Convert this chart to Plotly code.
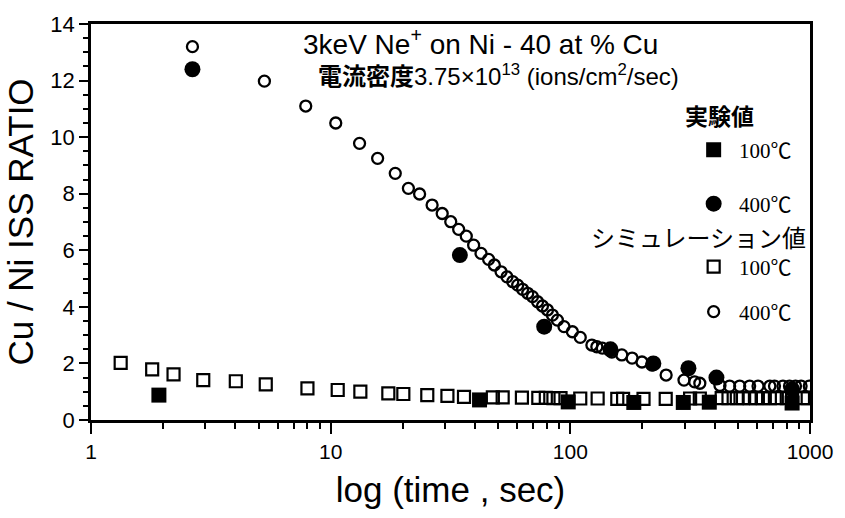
import plotly.graph_objects as go

# ---- data ----
sim400_t = [2.65, 5.29, 7.87, 10.5, 13.2, 15.7, 18.6, 21.1, 23.5, 26.5, 29.2, 31.7, 34.2, 36.8,
            39.5, 42.4, 45.6, 48.2, 51.4, 54.4, 57.5, 60.3, 63.2, 66.4, 69.5, 73.0, 76.5, 80.3,
            84.2, 88.3, 94.1, 102, 110, 123, 129, 136, 149, 164, 181, 199, 219, 251, 298, 330,
            347, 421, 462, 509, 560, 607, 680, 711, 771, 821, 870, 918, 993]
sim400_r = [13.2, 11.98, 11.1, 10.5, 9.78, 9.25, 8.72, 8.19, 7.99, 7.60, 7.30, 7.01, 6.74, 6.50,
            6.18, 5.89, 5.68, 5.48, 5.24, 5.06, 4.89, 4.77, 4.62, 4.48, 4.36, 4.18, 4.03, 3.89,
            3.71, 3.53, 3.30, 3.12, 2.92, 2.65, 2.59, 2.54, 2.40, 2.30, 2.19, 2.05, 1.94, 1.59, 1.41, 1.35,
            1.30, 1.22, 1.20, 1.20, 1.20, 1.20, 1.20, 1.20, 1.20, 1.20, 1.20, 1.20, 1.20]

sim100_t = [1.33, 1.80, 2.21, 2.94, 4.02, 5.36, 8.0, 10.7, 13.3, 17.4, 20.1, 25.3, 30.7, 36.0,
            47.5, 52.2, 62.8, 73.5, 79, 85, 91, 110, 130, 157, 166, 202, 250, 316, 347, 428,
            457, 495, 525, 560, 596, 636, 680, 727, 800, 842, 935, 978]
sim100_r = [2.02, 1.79, 1.61, 1.41, 1.37, 1.26, 1.12, 1.06, 1.00, 0.94, 0.92, 0.88, 0.85, 0.82,
            0.80, 0.80, 0.79, 0.78, 0.78, 0.77, 0.77, 0.76, 0.76, 0.75, 0.75, 0.75, 0.75, 0.76,
            0.76, 0.77, 0.77, 0.77, 0.77, 0.77, 0.77, 0.77, 0.77, 0.77, 0.77, 0.77, 0.77, 0.77]

exp100_t = [1.92, 41.8, 98, 184, 296, 380, 842]
exp100_r = [0.88, 0.71, 0.64, 0.62, 0.62, 0.63, 0.60]

exp400_t = [2.65, 34.6, 77.8, 147, 222, 311, 407, 842]
exp400_r = [12.4, 5.83, 3.30, 2.50, 2.00, 1.83, 1.50, 1.08]

x_ticks = [1, 10, 100, 1000]
x_minor = [m * 10 ** k for k in range(3) for m in range(2, 10)]
y_ticks = list(range(0, 15, 2))

fig = go.Figure()

serif = "Liberation Serif, Noto Sans CJK JP"
cjk = "Noto Sans CJK JP"
sans = "Liberation Sans, Arial"

fig.add_trace(go.Scatter(x=sim100_t, y=sim100_r, mode="markers", name=" 100℃",
                         legend="legend3",
                         marker=dict(symbol="square-open", size=12, color="black",
                                     line=dict(width=2.2, color="black"))))
fig.add_trace(go.Scatter(x=sim400_t, y=sim400_r, mode="markers", name=" 400℃",
                         legend="legend4",
                         marker=dict(symbol="circle-open", size=11, color="black",
                                     line=dict(width=2.3, color="black"))))
fig.add_trace(go.Scatter(x=exp100_t, y=exp100_r, mode="markers", name=" 100℃",
                         legend="legend",
                         marker=dict(symbol="square", size=15, color="black")))
fig.add_trace(go.Scatter(x=exp400_t, y=exp400_r, mode="markers", name=" 400℃",
                         legend="legend2",
                         marker=dict(symbol="circle", size=16, color="black")))

L, T, R, B = 91, 24, 845 - 814, 518 - 420
ph = 518 - T - B
pw = 845 - L - R


def py(p):
    return (518 - B - p) / ph


def px(p):
    return (p - L) / pw


leg_common = dict(x=px(697), xanchor="left", yanchor="middle",
                  bgcolor="rgba(0,0,0,0)", borderwidth=0,
                  font=dict(family=serif, size=21, color="black"))

fig.update_layout(
    width=845, height=518,
    margin=dict(l=L, r=R, t=T, b=B),
    plot_bgcolor="white", paper_bgcolor="white",
    showlegend=True,
    legend=dict(y=py(150), **leg_common),
    legend2=dict(y=py(204), **leg_common),
    legend3=dict(y=py(267), **leg_common),
    legend4=dict(y=py(312), **leg_common),
    xaxis=dict(type="log", range=[0, 3], tickvals=x_ticks, ticktext=[str(v) for v in x_ticks],
               ticks="outside", ticklen=11, tickwidth=2, tickcolor="black",
               minor=dict(tickvals=x_minor, ticks="outside", ticklen=6, tickwidth=1.5,
                          tickcolor="black", showgrid=False),
               showline=True, linewidth=2.5, linecolor="black", mirror=True,
               showgrid=False, zeroline=False,
               tickfont=dict(family=sans, size=21, color="black"),
               title=dict(text="log (time , sec)", font=dict(family=sans, size=35, color="black"),
                          standoff=16)),
    yaxis=dict(range=[0, 14], tickvals=y_ticks,
               ticks="outside", ticklen=9, tickwidth=2, tickcolor="black",
               minor=dict(dtick=0.5, ticks="outside", ticklen=5, tickwidth=1.5,
                          tickcolor="black", showgrid=False),
               showline=True, linewidth=2.5, linecolor="black", mirror=True,
               showgrid=False, zeroline=False,
               tickfont=dict(family=sans, size=22, color="black"),
               title=dict(text="Cu / Ni ISS RATIO", font=dict(family=sans, size=35, color="black"),
                          standoff=7)),
    annotations=[
        dict(text="3keV Ne<sup>+</sup> on Ni - 40 at % Cu", xref="paper", yref="paper",
             x=px(483), y=py(42), xanchor="center", yanchor="middle",
             showarrow=False, font=dict(family=sans, size=28, color="black")),
        dict(text="<b>電流密度</b>3.75×10<sup>13</sup> (ions/cm<sup>2</sup>/sec)",
             xref="paper", yref="paper",
             x=px(501), y=py(75), xanchor="center", yanchor="middle",
             showarrow=False, font=dict(family=sans + ", " + cjk, size=24, color="black")),
        dict(text="<b>実験値</b>", xref="paper", yref="paper",
             x=px(760), y=py(115), xanchor="right", yanchor="middle",
             showarrow=False, font=dict(family=cjk, size=23, color="black")),
        dict(text="シミュレーション値", xref="paper", yref="paper",
             x=px(812), y=py(236), xanchor="right", yanchor="middle",
             showarrow=False, font=dict(family=cjk, size=24, color="black")),
    ],
)

fig.write_html("out.html")
